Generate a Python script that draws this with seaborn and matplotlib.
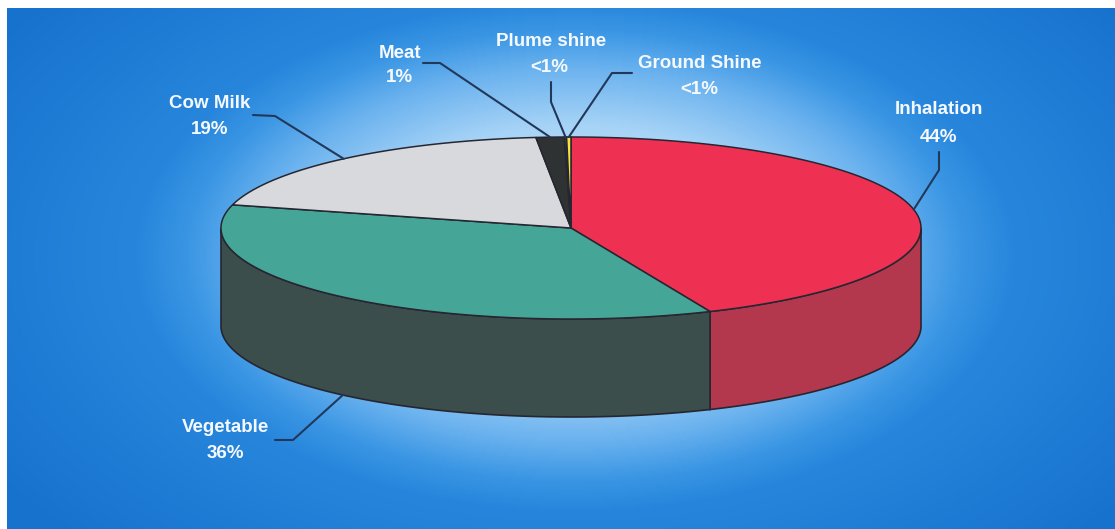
import numpy as np
import matplotlib
matplotlib.use("Agg")
import matplotlib.pyplot as plt
from matplotlib.patches import Polygon
from matplotlib.colors import LinearSegmentedColormap
import seaborn as sns

# Dose contribution by exposure pathway
categories = ["Inhalation", "Vegetable", "Cow Milk", "Meat", "Plume shine", "Ground Shine"]
shares = [43.5, 35.6, 19.3, 1.3, 0.1, 0.2]
top_colors = ["#ee3052", "#45a697", "#d8d9dd", "#2f3233", "#3a3f55", "#f2e43c"]
side_colors = ["#b3384d", "#3c4e4c", "#a8a9ad", "#1f2122", "#282c3c", "#bfae22"]

# label placement: (name position, percent position, leader elbow points)
label_layout = {
    "Inhalation":   ((939, 110), (939, 138), [(939, 152), (939, 170)]),
    "Vegetable":    ((225, 428), (225, 453), [(275, 440), (293, 440)]),
    "Cow Milk":     ((210, 103), (210, 129), [(253, 115), (275, 116)]),
    "Meat":         ((400, 53), (399, 78), [(423, 63), (440, 63)]),
    "Plume shine":  ((551, 41), (549, 67), [(551, 82), (551, 102)]),
    "Ground Shine": ((700, 63), (699, 89), [(632, 73), (612, 73)]),
}

sns.set_theme(style="white")
plt.rcParams["font.family"] = ["Liberation Sans", "DejaVu Sans"]

W, H = 1115, 529
fig = plt.figure(figsize=(W / 100, H / 100), dpi=100, facecolor="white")
ax = fig.add_axes([0, 0, 1, 1])
ax.set_xlim(0, W)
ax.set_ylim(H, 0)
ax.axis("off")

# radial blue backdrop, slightly lighter toward the bottom
x0, y0 = 7, 8
gx = np.linspace(x0, W, 700)
gy = np.linspace(y0, H, 340)
XX, YY = np.meshgrid(gx, gy)
rmax = 1.6
r = np.sqrt(((XX - 575) / 430) ** 2 + ((YY - 250) / 250) ** 2) / rmax
r = r - 0.03 * (YY - y0) / (H - y0)
bg_cmap = LinearSegmentedColormap.from_list(
    "backdrop",
    [(0.0, "#e6f3fd"), (0.5 / rmax, "#a4d2f6"), (0.72 / rmax, "#6cb3ef"),
     (0.88 / rmax, "#3a96e4"), (1.0 / rmax, "#2786dc"), (1.0, "#1772ce")])
ax.imshow(bg_cmap(np.clip(r, 0, 1)), extent=[x0, W, H, y0],
          aspect="auto", zorder=0, interpolation="bilinear")

# 3-D pie geometry
cx, cy, rx, ry, depth = 571, 228, 350, 91, 98
edge = "#262632"


def rim(t, lower=False):
    t = np.radians(t)
    return cx + rx * np.cos(t), cy - ry * np.sin(t) + (depth if lower else 0)


vals = np.array(shares, dtype=float)
frac = vals / vals.sum()
bounds = 90 - np.concatenate([[0], np.cumsum(frac) * 360])

# side walls for the front half of the pie
for i in range(len(vals)):
    a_start, a_end = bounds[i], bounds[i + 1]
    for k in (-360, 0, 360):
        lo, hi = max(a_end, -180 + k), min(a_start, 0 + k)
        if hi > lo:
            ts = np.linspace(lo, hi, 120)
            xt, yt = rim(ts)
            xb, yb = rim(ts[::-1], lower=True)
            poly = np.column_stack([np.concatenate([xt, xb]), np.concatenate([yt, yb])])
            ax.add_patch(Polygon(poly, closed=True, facecolor=side_colors[i],
                                 edgecolor=edge, linewidth=1.2, zorder=2))

# top faces
for i in range(len(vals)):
    a_start, a_end = bounds[i], bounds[i + 1]
    ts = np.linspace(a_start, a_end, max(int(abs(a_start - a_end) * 2), 4))
    xt, yt = rim(ts)
    poly = np.column_stack([np.concatenate([[cx], xt]), np.concatenate([[cy], yt])])
    ax.add_patch(Polygon(poly, closed=True, facecolor=top_colors[i],
                         edgecolor=edge, linewidth=1.1, zorder=3))

# labels and leader lines
for i, name in enumerate(categories):
    pct = frac[i] * 100
    pct_text = "<1%" if pct < 0.5 else f"{round(pct):d}%"
    name_pos, pct_pos, elbow = label_layout[name]
    mid = (bounds[i] + bounds[i + 1]) / 2
    front = np.sin(np.radians(mid)) < 0
    ex, ey = rim(mid, lower=front)
    pts = elbow + [(ex, ey)]
    ax.plot([p[0] for p in pts], [p[1] for p in pts], color="#22385a",
            linewidth=1.5, zorder=4, solid_capstyle="round")
    ax.text(*name_pos, name, ha="center", va="center", color="#f5f9fd",
            fontsize=13.5, fontweight="bold", zorder=5)
    ax.text(*pct_pos, pct_text, ha="center", va="center", color="#f5f9fd",
            fontsize=13.5, fontweight="bold", zorder=5)

fig.savefig("out.png", dpi=100, facecolor="white")
